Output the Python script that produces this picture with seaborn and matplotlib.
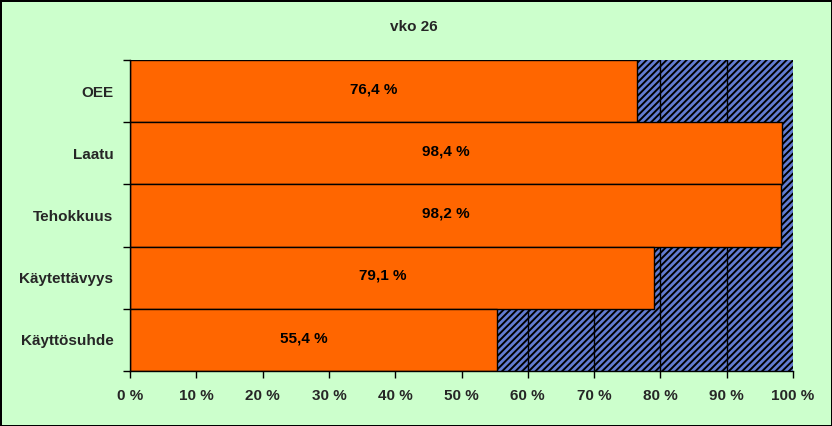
import pandas as pd
import seaborn as sns
import matplotlib.pyplot as plt
from matplotlib.ticker import FixedLocator

# Values (week 26)
categories = ['OEE', 'Laatu', 'Tehokkuus', 'Käytettävyys', 'Käyttösuhde']
values = [76.4, 98.4, 98.2, 79.1, 55.4]
value_labels = ['76,4 %', '98,4 %', '98,2 %', '79,1 %', '55,4 %']
full_scale = [100, 100, 100, 100, 100]
x_ticks = [0, 10, 20, 30, 40, 50, 60, 70, 80, 90, 100]
x_tick_labels = ['0 %', '10 %', '20 %', '30 %', '40 %', '50 %', '60 %', '70 %', '80 %', '90 %', '100 %']

df = pd.DataFrame({'Mittari': categories, 'Arvo': values, 'Koko': full_scale})

sns.set_style('white')
plt.rcParams['font.family'] = ['Liberation Sans', 'DejaVu Sans']
plt.rcParams['hatch.linewidth'] = 1.4
plt.rcParams['hatch.color'] = 'black'

bg = '#CCFFCC'
fs = 11
fig = plt.figure(figsize=(8.32, 4.26), dpi=100, facecolor=bg)
fig.patch.set_edgecolor('black')
fig.patch.set_linewidth(2)
ax = fig.add_axes([130 / 832, 1 - 371 / 426, (793 - 130) / 832, (371 - 60) / 426])
ax.set_facecolor(bg)

# hatched remainder (full 100 % behind the orange bars)
sns.barplot(data=df, x='Koko', y='Mittari', orient='h', width=1, color='#4F73E3',
            edgecolor='black', linewidth=0, ax=ax, zorder=1)
for p in ax.patches:
    p.set_hatch('/////')
    p.set_edgecolor('black')
    p.set_linewidth(0)
n_bg = len(ax.patches)

sns.barplot(data=df, x='Arvo', y='Mittari', orient='h', width=1, color='#FF6600',
            saturation=1, edgecolor='black', linewidth=1, ax=ax, zorder=3)
for p in ax.patches[n_bg:]:
    p.set_facecolor('#FF6600')
    p.set_zorder(3)

for i, (v, lab) in enumerate(zip(values, value_labels)):
    ax.text(v / 2 - 1.5, i - 0.03, lab, ha='center', va='center', fontsize=fs,
            fontweight='bold', color='black', zorder=5)

ax.set_xlim(0, 100)
ax.set_ylim(len(categories) - 0.5, -0.5)
ax.set_xticks(x_ticks)
ax.set_xticklabels(x_tick_labels, fontsize=fs, fontweight='bold')
ax.set_yticks(range(len(categories)))
ax.set_yticklabels(categories, fontsize=fs, fontweight='bold')
ax.yaxis.set_minor_locator(FixedLocator([i - 0.5 for i in range(len(categories) + 1)]))
ax.tick_params(axis='y', which='major', length=0, pad=12)
ax.tick_params(axis='y', which='minor', length=5, width=1, direction='out', color='black', left=True)
ax.tick_params(axis='x', which='major', length=5, width=1, direction='out', color='black', bottom=True, pad=8)

for x in x_ticks[1:-1]:
    ax.axvline(x, color='black', linewidth=1, zorder=2)

ax.set_xlabel('')
ax.set_ylabel('')
for side in ['top', 'right']:
    ax.spines[side].set_visible(False)
for side in ['left', 'bottom']:
    ax.spines[side].set_color('black')
    ax.spines[side].set_linewidth(1)
    ax.spines[side].set_zorder(6)

fig.text(0.497, 1 - 27 / 426, 'vko 26', ha='center', va='center', fontsize=fs, fontweight='bold')

fig.savefig('out.png', dpi=100, facecolor=bg, edgecolor='black')
